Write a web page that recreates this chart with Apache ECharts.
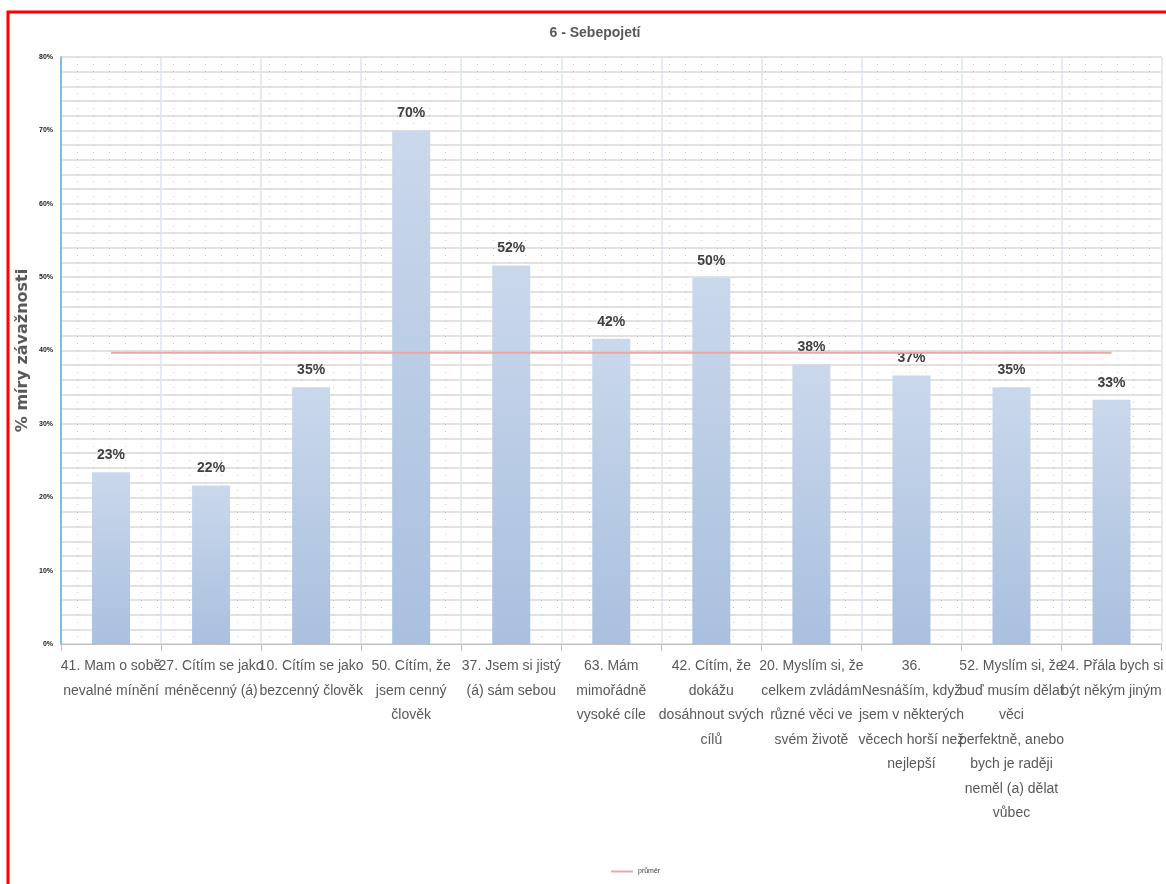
<!DOCTYPE html>
<html>
<head>
<meta charset="utf-8">
<title>6 - Sebepojetí</title>
<script src="https://cdn.jsdelivr.net/npm/echarts@6/dist/echarts.min.js"></script>
<style>
  html, body { margin: 0; padding: 0; background: #ffffff; }
  #chart { width: 1166px; height: 884px; }
</style>
</head>
<body>
<div id="chart"></div>
<script>
// Položky dotazníku (kategorie osy X)
const categories = [
  '41. Mam o sobě\nnevalné mínění',
  '27. Cítím se jako\nméněcenný (á)',
  '10. Cítím se jako\nbezcenný člověk',
  '50. Cítím, že\njsem cenný\nčlověk',
  '37. Jsem si jistý\n(á) sám sebou',
  '63. Mám\nmimořádně\nvysoké cíle',
  '42. Cítím, že\ndokážu\ndosáhnout svých\ncílů',
  '20. Myslím si, že\ncelkem zvládám\nrůzné věci ve\nsvém životě',
  '36.\nNesnáším, když\njsem v některých\nvěcech horší než\nnejlepší',
  '52. Myslím si, že\nbuď musím dělat\nvěci\nperfektně, anebo\nbych je raději\nneměl (a) dělat\nvůbec',
  '24. Přála bych si\nbýt někým jiným'
];

// % míry závažnosti pro jednotlivé položky
const severity = [23.4, 21.6, 35.0, 70.0, 51.6, 41.6, 49.9, 38.1, 36.6, 35.0, 33.3];

// průměr za celou oblast
const average = [39.7, 39.7, 39.7, 39.7, 39.7, 39.7, 39.7, 39.7, 39.7, 39.7, 39.7];

const yTicks = { min: 0, max: 80, step: 10 };

const narrow = "'Liberation Sans Narrow', 'Liberation Sans', 'DejaVu Sans Condensed', sans-serif";

const chart = echarts.init(document.getElementById('chart'), null, { renderer: 'canvas' });

chart.setOption({
  backgroundColor: '#ffffff',
  animation: false,
  title: {
    text: '6 - Sebepojetí',
    left: 590,
    top: 21,
    textAlign: 'center',
    textStyle: { fontFamily: narrow, fontSize: 14, fontWeight: 'bold', color: '#595959' }
  },
  legend: {
    data: ['průměr'],
    left: 606,
    top: 863,
    itemWidth: 22,
    itemHeight: 2,
    itemGap: 4,
    icon: 'rect',
    textStyle: { fontSize: 7, color: '#404040', fontFamily: narrow }
  },
  graphic: [{
    type: 'rect',
    shape: { x: 8, y: 12, width: 1180, height: 890 },
    style: { fill: 'none', stroke: '#ff0000', lineWidth: 3 },
    silent: true,
    z: 100
  }],
  grid: { left: 61, top: 57, width: 1107, height: 587, containLabel: false },
  xAxis: {
    type: 'category',
    data: categories,
    boundaryGap: true,
    axisLine: { show: true, lineStyle: { color: '#bfbfbf', width: 1 } },
    axisTick: { show: true, length: 7, interval: 0, lineStyle: { color: '#bfbfbf' } },
    splitLine: { show: true, interval: 0, lineStyle: { color: '#dbe5f1', width: 1.5 } },
    axisLabel: {
      interval: 0,
      margin: 10,
      fontFamily: narrow,
      fontSize: 14,
      lineHeight: 24.5,
      color: '#595959'
    }
  },
  yAxis: [{
    type: 'value',
    min: yTicks.min,
    max: yTicks.max,
    interval: yTicks.step,
    name: '% míry závažnosti',
    nameLocation: 'middle',
    nameGap: 30,
    nameMoveOverlap: false,
    nameTextStyle: { fontFamily: "'DejaVu Sans', sans-serif", fontSize: 16, fontWeight: 'bold', color: '#595959' },
    axisLine: { show: true, lineStyle: { color: '#5ab4d6', width: 1.5 } },
    axisTick: { show: false },
    axisLabel: {
      formatter: '{value}%',
      margin: 8,
      fontSize: 7,
      fontWeight: 'bold',
      color: '#1a1a1a',
      fontFamily: narrow
    },
    splitLine: { show: true, lineStyle: { color: '#d9d9d9', width: 1.5 } },
    minorTick: { show: false, splitNumber: 5 },
    minorSplitLine: { show: true, lineStyle: { color: '#d9d9d9', width: 1.5 } }
  }, {
    type: 'value',
    min: yTicks.min,
    max: yTicks.max,
    interval: 1,
    position: 'left',
    axisLine: { show: false },
    axisTick: { show: false },
    axisLabel: { show: false },
    splitLine: { show: true, lineStyle: { color: '#c4c4c4', width: 1, type: [1, 15] } }
  }],
  series: [{
    name: 'míra závažnosti',
    type: 'bar',
    data: severity,
    barWidth: 38,
    itemStyle: {
      color: new echarts.graphic.LinearGradient(0, 0, 0, 1, [
        { offset: 0, color: '#cad8eb' },
        { offset: 1, color: '#a9c0df' }
      ])
    },
    label: {
      show: true,
      position: 'top',
      distance: 10,
      formatter: p => Math.round(p.value) + '%',
      fontFamily: narrow,
      fontSize: 14,
      fontWeight: 'bold',
      color: '#404040'
    },
    z: 2
  }, {
    name: 'průměr',
    type: 'line',
    data: average,
    symbol: 'none',
    lineStyle: { color: '#e8a8a8', width: 2 },
    itemStyle: { color: '#e8a8a8' },
    z: 3
  }]
});
</script>
</body>
</html>
